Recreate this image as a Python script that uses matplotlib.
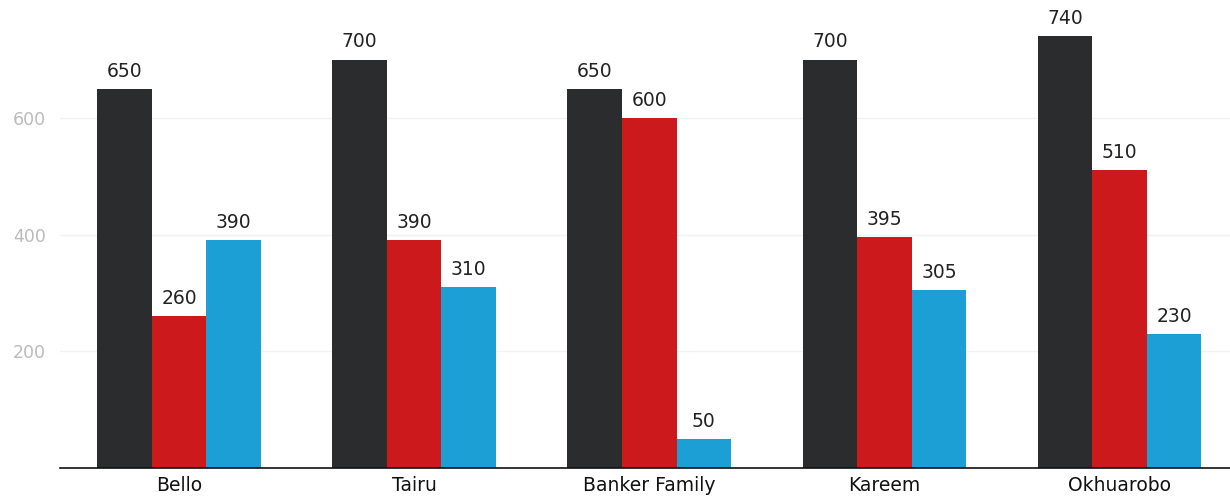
import matplotlib.pyplot as plt
import numpy as np

categories = ["Bello", "Tairu", "Banker Family", "Kareem", "Okhuarobo"]
series_a = [650, 700, 650, 700, 740]
series_b = [260, 390, 600, 395, 510]
series_c = [390, 310, 50, 305, 230]
y_ticks = [200, 400, 600]

colors = ["#2a2c2e", "#cc1a1c", "#1b9fd5"]

plt.rcParams["font.family"] = ["DejaVu Sans"]

fig = plt.figure(figsize=(12.3, 4.97), dpi=100)
ax = fig.add_axes([0.0488, 0.0584, 0.9512, 0.9416])

x = np.arange(len(categories))
width = 0.232
for i, (vals, col) in enumerate(zip([series_a, series_b, series_c], colors)):
    pos = x + (i - 1) * width
    bars = ax.bar(pos, vals, width=width, color=col, zorder=2)
    for b, v in zip(bars, vals):
        ax.text(b.get_x() + b.get_width() / 2, v + 14, str(v),
                ha="center", va="bottom", fontsize=13.5, color="#222222")

ax.set_xlim(-0.506, 4.47)
ax.set_ylim(0, 802)
ax.set_xticks(x)
ax.set_xticklabels(categories, fontsize=13.5, color="#111111")
ax.set_yticks(y_ticks)
ax.set_yticklabels([str(t) for t in y_ticks], fontsize=12.5, color="#bbbbbb")
ax.tick_params(axis="both", length=0)
ax.tick_params(axis="y", pad=10)
ax.tick_params(axis="x", pad=6)

ax.grid(axis="y", color="#f2f2f2", linewidth=1, zorder=0)
for side in ["top", "right", "left"]:
    ax.spines[side].set_visible(False)
ax.spines["bottom"].set_color("#111111")
ax.spines["bottom"].set_linewidth(1.2)

fig.savefig("out.png", dpi=100)
